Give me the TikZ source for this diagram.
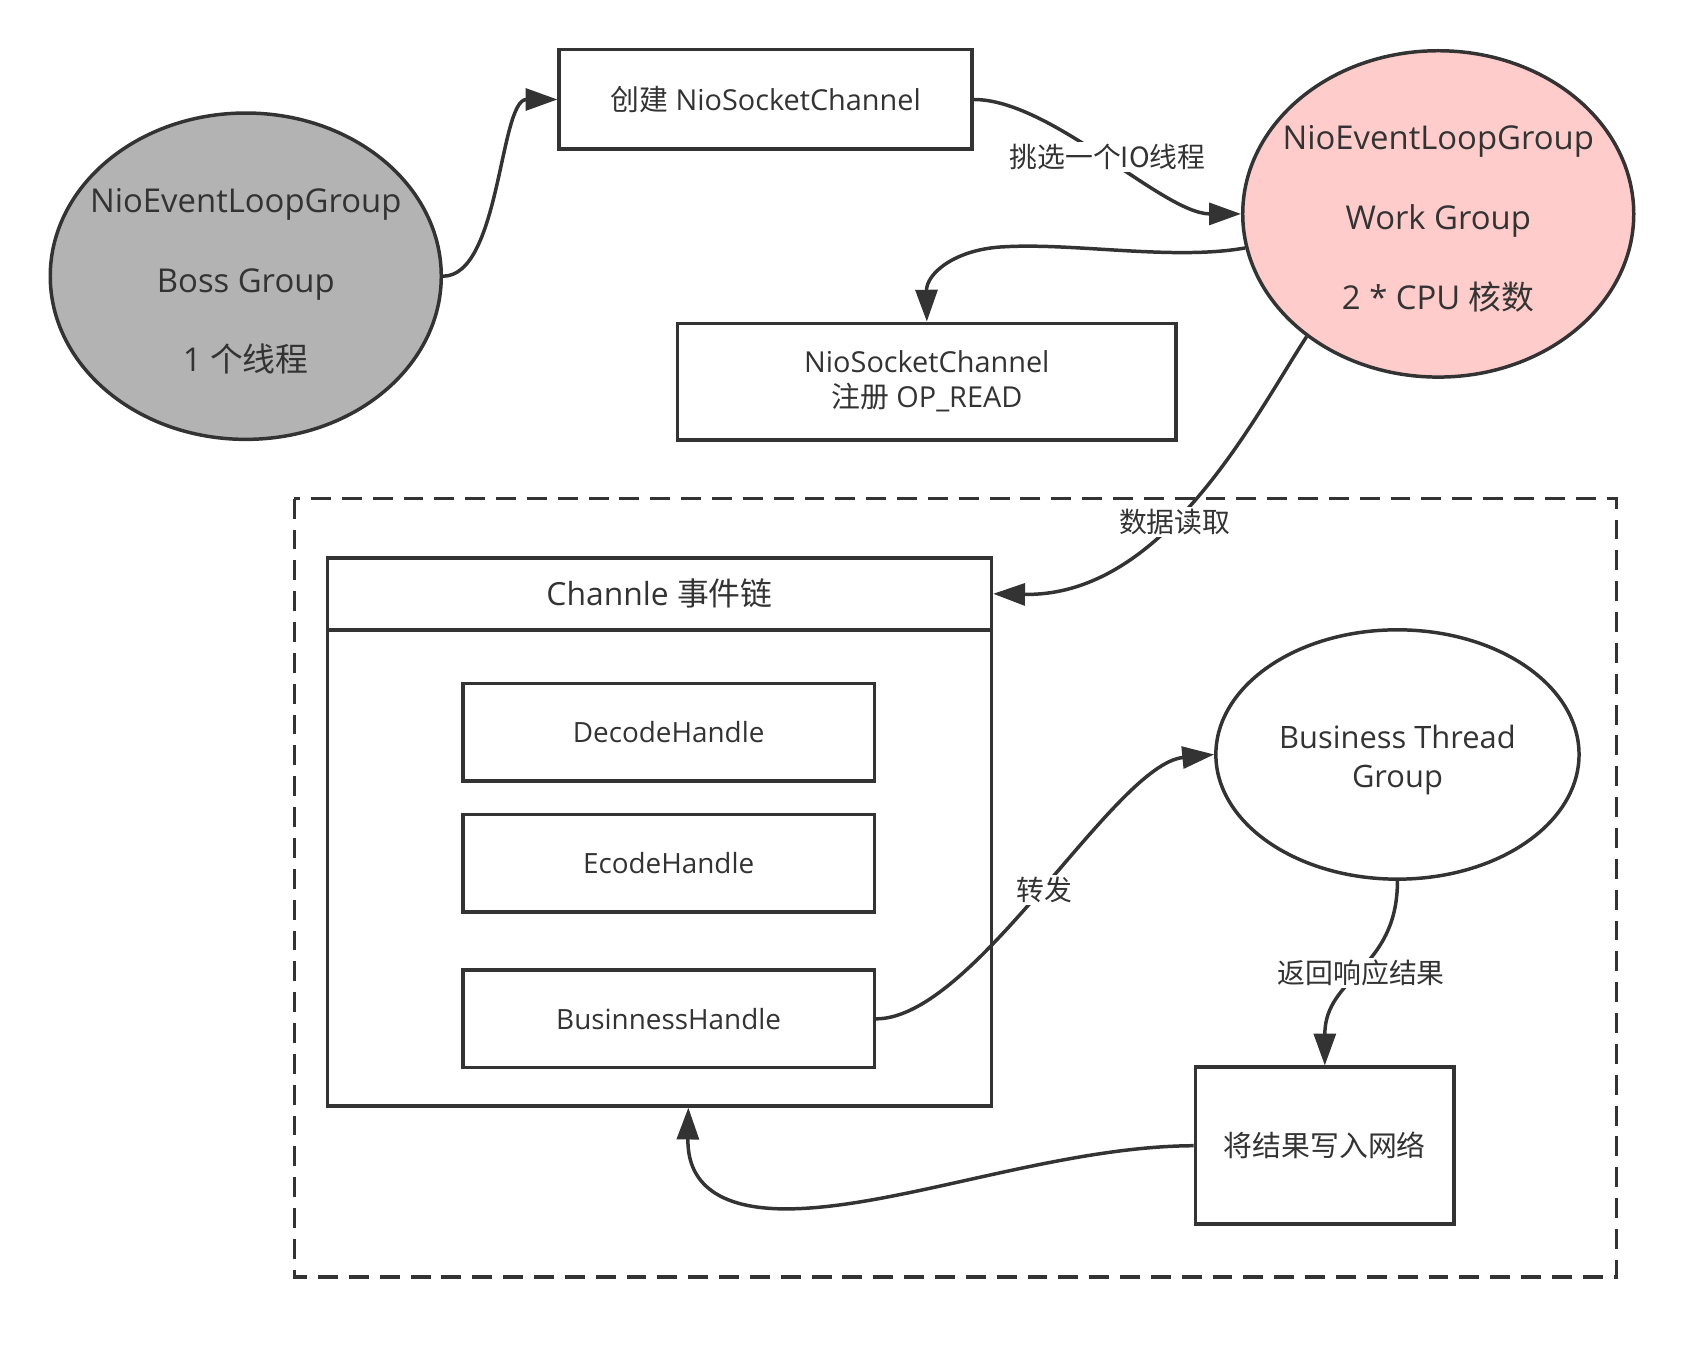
\documentclass[tikz,border=0pt]{standalone}
\usepackage{fontspec}
\setmainfont{Open Sans}
\newfontfamily\cjk{Noto Sans CJK SC}
\usetikzlibrary{arrows.meta,shapes.geometric}
\definecolor{linec}{HTML}{333333}
\definecolor{bossfill}{HTML}{B3B3B3}
\definecolor{workfill}{HTML}{FFCCCC}
\begin{document}
\begin{tikzpicture}[x=0.5pt,y=-0.5pt,
  every node/.style={text=linec},
  box/.style={draw=linec,line width=1.75pt,fill=white,inner sep=0pt,align=center},
  grp/.style={ellipse,draw=linec,line width=1.75pt,inner sep=0pt},
  flow/.style={draw=linec,line width=1.75pt,-{Triangle[length=16pt,width=11pt]}},
  lbl/.style={fill=white,inner sep=1pt,font=\fontsize{14}{17}\selectfont}]
\useasboundingbox (0,0) rectangle (1692.5,1367.8);
\draw[draw=linec,line width=1.75pt,dash pattern=on 10pt off 5.5pt](295.8,501.2)rectangle(1624.6,1283.3);
\node[grp,fill=bossfill,minimum width=196.5pt,minimum height=164pt](boss)at(247,277.6){};
\node[align=center,font=\fontsize{16.5}{40}\selectfont]at(247,283){NioEventLoopGroup\\Boss Group\\1 {\cjk 个线程}};
\node[grp,fill=workfill,minimum width=196.5pt,minimum height=164pt](work)at(1445.5,215){};
\node[align=center,font=\fontsize{16.5}{40}\selectfont]at(1445.5,220){NioEventLoopGroup\\Work Group\\2 * CPU {\cjk 核数}};
\node[box,minimum width=207.5pt,minimum height=50pt,font=\fontsize{14.5}{17}\selectfont](create)at(769.5,100){{\cjk 创建} NioSocketChannel};
\node[box,minimum width=250.5pt,minimum height=58.5pt,font=\fontsize{14.5}{17.5}\selectfont](reg)at(931.5,383.5){NioSocketChannel\\{\cjk 注册} OP\_READ};
\node[box,minimum width=333.6pt,minimum height=275.45pt](chain)at(662.8,836){};
\node[box,minimum width=333.6pt,minimum height=36.2pt,font=\fontsize{16}{19}\selectfont](chainhead)at(662.8,596.8){Channle {\cjk 事件链}};
\node[box,minimum width=206.7pt,minimum height=49pt,font=\fontsize{14}{17}\selectfont](dech)at(672,736){DecodeHandle};
\node[box,minimum width=206.7pt,minimum height=49pt,font=\fontsize{14}{17}\selectfont](ench)at(672,867.4){EcodeHandle};
\node[box,minimum width=206.7pt,minimum height=49pt,font=\fontsize{14}{17}\selectfont](bizh)at(672,1024){BusinnessHandle};
\node[grp,fill=white,minimum width=182.5pt,minimum height=125.3pt](btg)at(1404.5,758.3){};
\node[align=center,font=\fontsize{15.5}{19.5}\selectfont]at(1404.5,764){Business Thread\\Group};
\node[box,minimum width=130pt,minimum height=78.9pt,font=\fontsize{14.5}{17}\selectfont](write)at(1331.5,1151.5){\cjk 将结果写入网络};
\draw[flow](boss.east)..controls(503,277.6)and(502,100)..(create.west);
\draw[flow](create.east)..controls(1057,100)and(1169,215)..(work.west)node[lbl,pos=0.5]{\cjk 挑选一个IO线程};
\draw[flow](work.190)..controls(1180,262)and(1080,244)..(1010,248)..controls(960,250)and(931,275)..(reg.north);
\draw[flow](work.223)..controls(1260,420)and(1170,600)..(chainhead.east)node[lbl,pos=0.58,xshift=3pt]{\cjk 数据读取};
\draw[flow](bizh.east)..controls(980,1024)and(1120,768)..(btg.west)node[lbl,pos=0.5]{\cjk 转发};
\draw[flow](btg.south)..controls +(0,90)and +(0,-90)..(write.north)node[lbl,pos=0.5]{\cjk 返回响应结果};
\draw[flow](write.west)..controls(1060,1152)and(900,1215)..(790,1215)..controls(700,1215)and(691,1170)..([xshift=14.5pt]chain.south);
\end{tikzpicture}
\end{document}
